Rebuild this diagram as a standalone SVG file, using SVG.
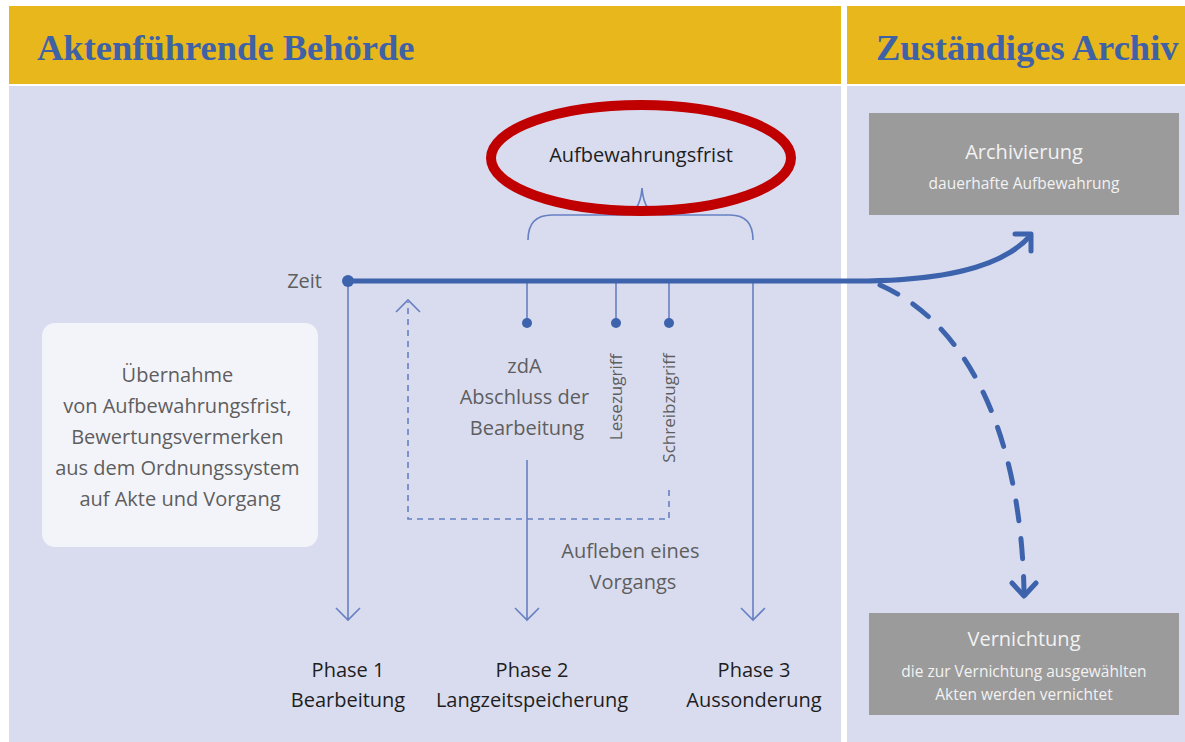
<svg xmlns="http://www.w3.org/2000/svg" width="1185" height="742" viewBox="0 0 1185 742">
<defs>
<style>
.hdr{fill:#E8B71C}
.body{fill:#D9DCEF}
.title{font-family:"Liberation Serif",serif;font-weight:bold;font-size:36.5px;fill:#3F62A6}
.t{font-family:"Open Sans","Noto Sans",sans-serif}
.gray{fill:#5E5E5E}
.dark{fill:#1E1E1E}
.thin{stroke:#6680C2;stroke-width:1.6;fill:none}
.dash{stroke:#6680C2;stroke-width:1.6;fill:none;stroke-dasharray:6 5}
.thick{stroke:#3D63AD;stroke-width:5;fill:none;stroke-linecap:round;stroke-linejoin:round}
.dot{fill:#3D63AD}
.box{fill:#9B9B9B}
.wt{fill:#F2F2F2}
</style>
</defs>
<rect width="1185" height="742" fill="#FFFFFF"/>
<g id="panel-left">
<rect class="hdr" x="9" y="6" width="832" height="78"/>
<rect class="body" x="9" y="86" width="832" height="656"/>
<text class="title" x="37" y="60">Aktenführende Behörde</text>
</g>
<g id="panel-right">
<rect class="hdr" x="847" y="6" width="338" height="78"/>
<rect class="body" x="847" y="86" width="338" height="656"/>
<text class="title" x="876" y="60">Zuständiges Archiv</text>
</g>
<g id="connectors">
<path class="thin" d="M348 281 V620 M336 608 L348 620 L360 608"/>
<path class="thin" d="M527 281 V323 M527 460 V620 M515 608 L527 620 L539 608"/>
<path class="thin" d="M616 281 V323"/>
<path class="thin" d="M669 281 V323"/>
<path class="thin" d="M753 281 V620 M741 608 L753 620 L765 608"/>
<path class="dash" d="M669 490 V519 H408 V302"/>
<path class="thin" d="M396 312 L408 300 L420 312"/>
<path class="thin" d="M528 240 Q528 215 552 215 H622 Q640 215 642 188 Q644 215 662 215 H730 Q753 215 753 240"/>
<path class="thick" d="M348 281 H855 C935 281 1000 270 1030 236"/>
<path class="thick" d="M1015 234 H1031 V251"/>
<path class="thick" d="M880 285 C960 320 1020 420 1024 590" stroke-dasharray="20 18" stroke-linecap="butt"/>
<path class="thick" d="M1012 583 L1024 596 L1036 583"/>
<circle class="dot" cx="348" cy="281" r="6"/>
<circle class="dot" cx="527" cy="323" r="5"/>
<circle class="dot" cx="616" cy="323" r="5"/>
<circle class="dot" cx="669" cy="323" r="5"/>
</g>
<g id="zeit">
<text class="t gray" x="322" y="288" font-size="20" text-anchor="end">Zeit</text>
</g>
<g id="aufbewahrungsfrist">
<text class="t dark" x="641" y="162" font-size="20" text-anchor="middle">Aufbewahrungsfrist</text>
<ellipse cx="641" cy="158" rx="150" ry="53" fill="none" stroke="#C00000" stroke-width="10"/>
</g>
<g id="uebernahme">
<rect x="42" y="323" width="276" height="224" rx="13" fill="#F3F4FA"/>
<text class="t gray" font-size="20" text-anchor="middle">
<tspan x="180" y="382">Übernahme</tspan>
<tspan x="180" y="413">von Aufbewahrungsfrist,</tspan>
<tspan x="180" y="444">Bewertungsvermerken</tspan>
<tspan x="180" y="475">aus dem Ordnungssystem</tspan>
<tspan x="180" y="506">auf Akte und Vorgang</tspan>
</text>
</g>
<g id="zda">
<text class="t gray" font-size="20" text-anchor="middle">
<tspan x="527" y="373">zdA</tspan>
<tspan x="527" y="404">Abschluss der</tspan>
<tspan x="527" y="435">Bearbeitung</tspan>
</text>
</g>
<g id="lesezugriff">
<text class="t gray" font-size="17" text-anchor="middle" transform="translate(622 397) rotate(-90)">Lesezugriff</text>
</g>
<g id="schreibzugriff">
<text class="t gray" font-size="17" text-anchor="middle" transform="translate(675 408) rotate(-90)">Schreibzugriff</text>
</g>
<g id="aufleben">
<text class="t gray" font-size="20" text-anchor="middle">
<tspan x="633" y="558">Aufleben eines</tspan>
<tspan x="633" y="589">Vorgangs</tspan>
</text>
</g>
<g id="phase1">
<text class="t dark" font-size="20" text-anchor="middle"><tspan x="348" y="677">Phase 1</tspan><tspan x="348" y="707">Bearbeitung</tspan></text>
</g>
<g id="phase2">
<text class="t dark" font-size="20" text-anchor="middle"><tspan x="532" y="677">Phase 2</tspan><tspan x="532" y="707">Langzeitspeicherung</tspan></text>
</g>
<g id="phase3">
<text class="t dark" font-size="20" text-anchor="middle"><tspan x="754" y="677">Phase 3</tspan><tspan x="754" y="707">Aussonderung</tspan></text>
</g>
<g id="archivierung">
<rect class="box" x="869" y="113" width="310" height="102"/>
<text class="t wt" x="1024" y="159" font-size="20" text-anchor="middle">Archivierung</text>
<text class="t wt" x="1024" y="189" font-size="15.5" text-anchor="middle">dauerhafte Aufbewahrung</text>
</g>
<g id="vernichtung">
<rect class="box" x="869" y="613" width="310" height="102"/>
<text class="t wt" x="1024" y="646" font-size="20" text-anchor="middle">Vernichtung</text>
<text class="t wt" x="1024" y="677" font-size="15.5" text-anchor="middle">die zur Vernichtung ausgewählten</text>
<text class="t wt" x="1024" y="700" font-size="15.5" text-anchor="middle">Akten werden vernichtet</text>
</g>
</svg>
